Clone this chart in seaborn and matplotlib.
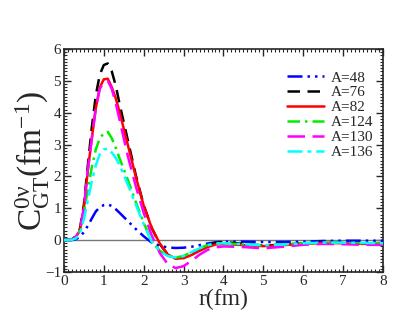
import numpy as np
import pandas as pd
import seaborn as sns
import matplotlib.pyplot as plt
from matplotlib.ticker import MultipleLocator

# radial grid (fm)
r = [0, 0.2, 0.3, 0.4, 0.5, 0.6, 0.7, 0.8, 0.9, 1.0, 1.1, 1.2, 1.3, 1.4, 1.6, 1.8, 2.0, 2.2, 2.4, 2.6, 2.8,
     3.0, 3.2, 3.4, 3.6, 3.8, 4.0, 4.5, 5.0, 5.5, 6.0, 6.5, 7.0, 7.5, 8.0]

a48 = [0, 0.0, 0.03, 0.1, 0.25, 0.45, 0.68, 0.9, 1.03, 1.1, 1.12, 1.07, 0.97, 0.85, 0.6, 0.35, 0.12, -0.08,
       -0.18, -0.23, -0.25, -0.24, -0.21, -0.16, -0.11, -0.07, -0.05, -0.05, -0.06, -0.06, -0.05, -0.03,
       -0.02, -0.02, -0.02]
a76 = [0, 0.02, 0.12, 0.35, 1.1, 2.35, 3.55, 4.55, 5.2, 5.5, 5.55, 5.3, 4.85, 4.25, 3.15, 2.05, 1.1, 0.38,
       -0.12, -0.45, -0.58, -0.54, -0.42, -0.28, -0.16, -0.09, -0.06, -0.12, -0.17, -0.15, -0.1, -0.08,
       -0.08, -0.1, -0.1]
a82 = [0, 0.02, 0.1, 0.3, 1.0, 2.2, 3.2, 4.15, 4.8, 5.05, 5.07, 4.8, 4.45, 4.0, 3.0, 2.0, 1.08, 0.39,
       -0.1, -0.45, -0.58, -0.57, -0.47, -0.34, -0.22, -0.14, -0.12, -0.16, -0.19, -0.16, -0.12, -0.09,
       -0.1, -0.12, -0.13]
a124 = [0, 0.01, 0.08, 0.3, 0.85, 1.6, 2.3, 2.85, 3.2, 3.36, 3.4, 3.2, 2.9, 2.55, 1.9, 1.2, 0.55, -0.05,
        -0.33, -0.5, -0.55, -0.5, -0.38, -0.25, -0.16, -0.11, -0.1, -0.14, -0.17, -0.14, -0.1, -0.08,
        -0.09, -0.1, -0.1]
a130 = [0, 0.02, 0.1, 0.3, 1.0, 2.2, 3.2, 4.15, 4.75, 4.97, 5.0, 4.75, 4.3, 3.75, 2.65, 1.7, 0.85, 0.15,
        -0.4, -0.75, -0.88, -0.82, -0.65, -0.46, -0.31, -0.23, -0.2, -0.22, -0.26, -0.21, -0.15, -0.12,
        -0.13, -0.15, -0.15]
a136 = [0, 0.01, 0.05, 0.2, 0.65, 1.25, 1.85, 2.35, 2.7, 2.85, 2.87, 2.75, 2.58, 2.35, 1.75, 1.12, 0.5, -0.05,
        -0.35, -0.5, -0.55, -0.5, -0.38, -0.26, -0.16, -0.11, -0.1, -0.13, -0.16, -0.14, -0.1, -0.08,
        -0.08, -0.09, -0.1]

labels = ['A=48', 'A=76', 'A=82', 'A=124', 'A=130', 'A=136']
series = [a48, a76, a82, a124, a130, a136]
colors = ['#0000ff', '#000000', '#ff0000', '#00ee00', '#ff00ff', '#00ffff']
styles = [(0, (6, 2, 1, 2, 1, 2)), (0, (5, 3)), '-', (0, (5, 2, 1, 2)),
          (0, (7, 3)), (0, (6, 2, 1.5, 2))]

sns.set_style('ticks')
plt.rcParams['font.family'] = ['Liberation Serif', 'DejaVu Serif']
plt.rcParams['mathtext.fontset'] = 'custom'
plt.rcParams['mathtext.rm'] = 'Liberation Serif'
plt.rcParams['mathtext.it'] = 'Liberation Serif:italic'

fig = plt.figure(figsize=(4.15, 3.21), dpi=100)
ax = fig.add_axes([0.154, 0.153, 0.769, 0.694])

ax.axhline(0, color='#777777', lw=1.0, zorder=1)

for lab, vals, c, ls in zip(labels, series, colors, styles):
    df = pd.DataFrame({'r': r, 'C': vals})
    sns.lineplot(data=df, x='r', y='C', ax=ax, color=c, lw=1.8,
                 linestyle=ls, label=lab, zorder=3)

ax.set_xlim(0, 8)
ax.set_ylim(-1, 6)
ax.xaxis.set_major_locator(MultipleLocator(1))
ax.xaxis.set_minor_locator(MultipleLocator(0.1))
ax.yaxis.set_major_locator(MultipleLocator(1))
ax.yaxis.set_minor_locator(MultipleLocator(0.1))
ax.tick_params(which='both', direction='in', top=True, right=True,
               labelsize=11, pad=2)
ax.tick_params(which='major', length=5, width=1)
ax.tick_params(which='minor', length=2.5, width=0.8)
for s in ax.spines.values():
    s.set_linewidth(1.2)

ax.set_xlabel('r(fm)', fontsize=17, labelpad=1)
ax.set_ylabel(r'$\mathrm{C^{0\nu}_{GT}(fm^{-1})}$', fontsize=24, labelpad=-5)

leg = ax.legend(loc='upper left', bbox_to_anchor=(0.68, 0.93), frameon=False,
                fontsize=11, handlelength=2.4, handletextpad=0.5,
                labelspacing=0.08, borderaxespad=0)

fig.savefig('out.png', dpi=100)
